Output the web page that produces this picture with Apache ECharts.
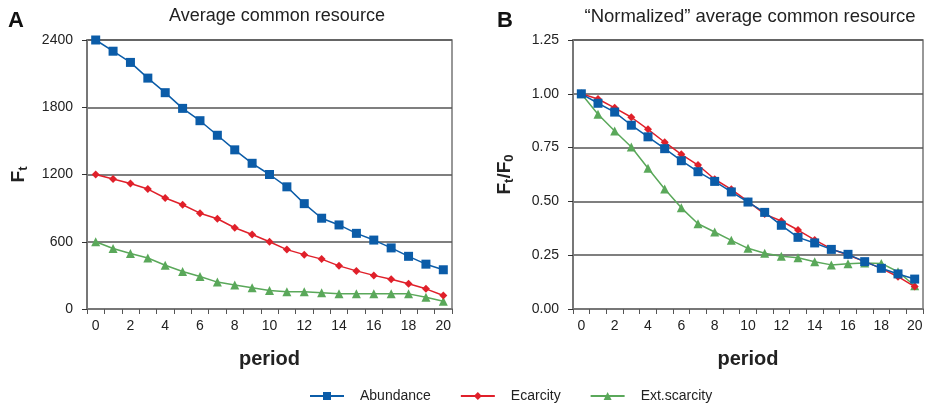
<!DOCTYPE html>
<html>
<head>
<meta charset="utf-8">
<script src="https://cdn.jsdelivr.net/npm/echarts@6/dist/echarts.min.js"></script>
<style>
html, body { margin: 0; padding: 0; background: #fff; }
#chart { width: 926px; height: 408px; }
</style>
</head>
<body>
<div id="chart"></div>
<script>
var periods = ['0','1','2','3','4','5','6','7','8','9','10','11','12','13','14','15','16','17','18','19','20'];

// panel A: average common resource
var abundanceA = [2400,2300,2200,2060,1930,1790,1680,1550,1420,1300,1200,1090,940,810,750,675,615,545,470,400,350];
var ecarcityA = [1200,1160,1120,1070,990,930,855,805,725,665,600,530,485,445,385,340,300,265,225,180,120];
var extScarcityA = [600,540,495,455,390,335,290,240,215,190,165,155,155,145,135,135,135,135,135,105,70];

// panel B: normalized
var abundanceB = [1.00,0.956,0.915,0.854,0.80,0.745,0.689,0.638,0.593,0.544,0.497,0.449,0.389,0.333,0.307,0.277,0.254,0.22,0.189,0.163,0.139];
var ecarcityB = [1.00,0.976,0.935,0.891,0.835,0.775,0.719,0.669,0.603,0.556,0.50,0.441,0.409,0.367,0.321,0.279,0.251,0.22,0.189,0.15,0.104];
var extScarcityB = [1.00,0.905,0.827,0.753,0.654,0.558,0.47,0.396,0.358,0.319,0.282,0.259,0.245,0.238,0.22,0.205,0.21,0.214,0.212,0.173,0.108];

var seriesNames = ['Abundance','Ecarcity','Ext.scarcity'];
var colors = ['#0b5ca8','#e0202a','#5aa85a'];
var symbols = ['rect','diamond','triangle'];
var symbolSizes = [9,8,9];

var font = 'Liberation Sans, Arial, sans-serif';

var myChart = echarts.init(document.getElementById('chart'));

function xAxisFor(idx){
    return {
        type: 'category',
        gridIndex: idx,
        data: periods,
        boundaryGap: true,
        name: 'period',
        nameLocation: 'middle',
        nameGap: 40,
        nameTextStyle: { fontSize: 20, fontWeight: 'bold', color: '#222', fontFamily: font },
        axisLine: { lineStyle: { color: '#777', width: 2 } },
        axisTick: { show: true, interval: 0, length: 5, lineStyle: { color: '#555' } },
        axisLabel: { interval: 1, fontSize: 14, color: '#222', fontFamily: font, margin: 10 }
    };
}

function yAxisFor(idx, max, interval, name, rich, digits){
    return {
        type: 'value',
        gridIndex: idx,
        min: 0,
        max: max,
        interval: interval,
        name: name,
        nameLocation: 'middle',
        nameRotate: 90,
        nameGap: 57,
        nameTextStyle: { fontSize: 19, fontWeight: 'bold', color: '#222', fontFamily: font, rich: rich },
        axisLine: { show: true, lineStyle: { color: '#777', width: 2 } },
        axisTick: { show: true, length: 5, lineStyle: { color: '#333' } },
        axisLabel: {
            fontSize: 14, color: '#222', fontFamily: font, margin: 14,
            formatter: function(v){ return digits ? v.toFixed(digits) : String(v); }
        },
        splitLine: { show: true, lineStyle: { color: '#555', width: 1.5 } }
    };
}

var subRich = {
    f: { fontSize: 19, fontWeight: 'bold', color: '#222', fontFamily: font },
    s: { fontSize: 13, fontWeight: 'bold', color: '#222', fontFamily: font, padding: [10, 0, 0, 0] }
};

function makeSeries(data, i, idx){
    return {
        name: seriesNames[i],
        type: 'line',
        xAxisIndex: idx,
        yAxisIndex: idx,
        data: data,
        symbol: symbols[i],
        symbolSize: symbolSizes[i],
        showAllSymbol: true,
        color: colors[i],
        lineStyle: { width: 1.5, color: colors[i] },
        itemStyle: { color: colors[i] },
        z: 10 - i
    };
}

var option = {
    animation: false,
    backgroundColor: '#fff',
    textStyle: { fontFamily: font },
    title: [
        { text: 'A', left: 3, top: 5, textStyle: { fontSize: 22, fontWeight: 'bold', color: '#111', fontFamily: font } },
        { text: 'Average common resource', left: 272, top: 2, textAlign: 'center', textStyle: { fontSize: 18, fontWeight: 'normal', color: '#222', fontFamily: font } },
        { text: 'B', left: 492, top: 5, textStyle: { fontSize: 22, fontWeight: 'bold', color: '#111', fontFamily: font } },
        { text: '\u201cNormalized\u201d average common resource', left: 745, top: 2, textAlign: 'center', textStyle: { fontSize: 18.5, fontWeight: 'normal', color: '#222', fontFamily: font } }
    ],
    legend: {
        data: seriesNames,
        left: 304,
        top: 384,
        itemWidth: 34,
        itemHeight: 10,
        itemGap: 29,
        textStyle: { fontSize: 14, color: '#222', fontFamily: font, padding: [0, 0, 0, 11] }
    },
    grid: [
        { left: 87, top: 40, width: 365, height: 269, show: true, borderColor: '#777', borderWidth: 1.5, backgroundColor: 'transparent' },
        { left: 573, top: 40, width: 350, height: 269, show: true, borderColor: '#777', borderWidth: 1.5, backgroundColor: 'transparent' }
    ],
    xAxis: [xAxisFor(0), xAxisFor(1)],
    yAxis: [
        yAxisFor(0, 2400, 600, '{f|F}{s|t}', subRich, 0),
        yAxisFor(1, 1.25, 0.25, '{f|F}{s|t}{f|/F}{s|0}', subRich, 2)
    ],
    series: [
        makeSeries(abundanceA, 0, 0),
        makeSeries(ecarcityA, 1, 0),
        makeSeries(extScarcityA, 2, 0),
        makeSeries(abundanceB, 0, 1),
        makeSeries(ecarcityB, 1, 1),
        makeSeries(extScarcityB, 2, 1)
    ]
};

myChart.setOption(option);
</script>
</body>
</html>
